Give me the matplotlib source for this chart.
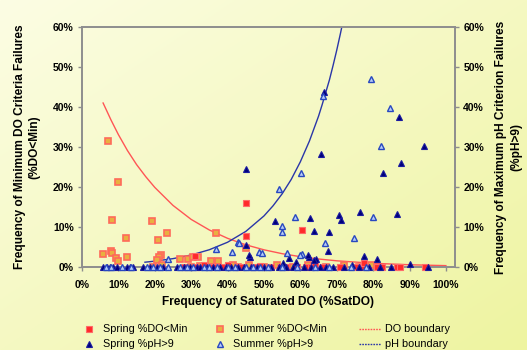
import numpy as np
import matplotlib
matplotlib.use("Agg")
import matplotlib.pyplot as plt
from matplotlib.ticker import FuncFormatter
from matplotlib.lines import Line2D

plt.rcParams['font.family'] = ['Liberation Sans', 'DejaVu Sans']

# ---------------- data (percent) ----------------
spring_do_x = [45.0, 45.0, 60.5, 31.0, 28, 31, 33.5, 36, 38.5, 40, 42.5, 44, 47, 49, 52, 54.5,
               56, 59, 61.5, 63, 66.2, 70.9, 75.5, 77.2, 81, 82.4, 86.5, 87.4, 94.2, 77.5, 64]
spring_do_y = [16.0, 7.8, 9.25, 2.75, 0, 0, 0.4, 0, 0, 0.5, 0, 0, 0, 0.3, 0, 0,
               0, 0, 0, 0, 0, 0, 0, 0, 0, 0, 0, 0, 0, 0.9, 0.6]

summer_do_x = [7.1, 9.8, 8.3, 19.1, 12.1, 20.8, 23.4, 36.8, 5.9, 7.9, 8.2, 9.3, 10.0, 12.4,
               21.7, 21.2, 20.5, 26.9, 29.2, 30.4, 31.8, 35.4, 37.4, 45.0,
               19.5, 22, 30, 32.5, 37, 41.5, 43, 46, 50, 53.5, 58, 62, 67, 72, 76, 79.5]
summer_do_y = [31.5, 21.2, 11.7, 11.6, 7.3, 6.75, 8.6, 8.4, 3.2, 4.1, 3.4, 2.3, 1.5, 2.4,
               3.0, 2.4, 1.75, 2.0, 2.0, 2.4, 2.6, 1.5, 1.5, 4.8,
               0, 0.5, 0, 0.3, 0, 0.4, 0, 0.6, 0, 0.5, 0, 0.4, 0, 0.5, 0, 0.6]

spring_ph_x = [66.6, 87.2, 94.0, 65.8, 82.8, 87.6, 53.0, 62.6, 63.8, 67.9, 70.7, 71.2, 67.7,
               76.4, 86.5, 77.5, 81.0, 57.0, 62.4, 64.3, 55.1, 58.8, 90.1, 74.2, 45.0, 45.0,
               46.2, 46.0, 62.2, 63.8,
               5.8, 6.9, 7.7, 8.5, 9.6, 12.4, 13.2, 14.0, 16.8, 18.7, 20.6, 22.3, 26.0, 27.9,
               29.7, 31.5, 32.5, 34.3, 36, 38, 39.5, 41, 43, 44.5, 46.5, 48, 50, 52, 54, 56,
               58, 61, 63, 65.5, 67, 69, 72, 76, 79, 82, 85, 95]
spring_ph_y = [43.8, 37.6, 30.3, 28.25, 23.6, 25.9, 11.5, 12.3, 9.0, 8.8, 13.0, 11.75, 4.1,
               13.8, 13.25, 2.75, 1.9, 2.2, 2.6, 1.9, 0.9, 1.3, 0.7, 0.5, 24.4, 5.5,
               2.4, 3.0, 3.0, 1.75,
               0, 0, 0, 0, 0, 0, 0, 0, 0, 0, 0, 0, 0, 0,
               0, 0, 0, 0, 0, 0, 0, 0, 0, 0, 0, 0, 0, 0, 0, 0,
               0, 0, 0, 0, 0, 0, 0, 0, 0, 0, 0, 0]

summer_ph_x = [66.1, 79.4, 84.6, 82.3, 60.1, 54.2, 54.9, 55.0, 58.5, 66.8, 74.8, 80.0, 56.2,
               60.4, 42.9, 36.8, 41.1, 23.5, 48.6, 43.2, 49.5, 59.9,
               6.5, 8, 11, 13.5, 17.9, 19.5, 21.4, 23.6, 27, 28.8, 30.6, 33.4, 35, 37, 40, 42,
               45, 47, 49, 51, 55, 59, 64, 68, 74, 78]
summer_ph_y = [42.75, 46.9, 39.7, 30.3, 23.4, 19.4, 10.3, 8.8, 12.6, 6.1, 7.2, 12.4, 3.4,
               3.2, 6.3, 4.4, 3.7, 2.0, 3.8, 6.1, 3.4, 3.0,
               0, 0, 0, 0, 0, 0, 0, 0, 0, 0, 0, 0, 0, 0, 0, 0,
               0, 0, 0, 0, 0, 0, 0, 0, 0, 0]

# boundary curves
do_bound_x = [5.8, 8, 10, 12.5, 15, 17.5, 20, 25, 30, 35, 40, 45, 50, 55, 60, 65, 70, 80, 90, 100]
do_bound_y = [41.0, 36.7, 33.1, 29.1, 25.6, 22.6, 19.9, 15.4, 11.9, 9.25, 7.17, 5.55, 4.3,
              3.33, 2.58, 2.0, 1.55, 0.93, 0.56, 0.34]
ph_bound_x = [17.3, 20, 25, 30, 35, 40, 45, 50, 52.5, 55, 57.5, 60, 62.5, 65, 66, 68, 69, 70, 71, 72]
ph_bound_y = [1.2, 1.46, 2.09, 3.0, 4.32, 6.19, 8.89, 12.76, 15.3, 18.3, 21.9, 26.3, 31.5,
              37.7, 40.6, 46.8, 50.4, 54.2, 58.3, 62.6]

x_ticks = [0, 10, 20, 30, 40, 50, 60, 70, 80, 90, 100]
y_ticks = [0, 10, 20, 30, 40, 50, 60]

legend_labels = ['Spring %DO<Min', 'Summer %DO<Min', 'DO boundary',
                 'Spring %pH>9', 'Summer %pH>9', 'pH boundary']

# ---------------- styles ----------------
RED_LINE = '#ff5555'
BLUE_LINE = '#2a36a8'
st_spring_do = dict(marker='s', ms=4.2, mfc='#ff2a2a', mec='#ff6a6a', mew=0.8)
st_summer_do = dict(marker='s', ms=4.2, mfc='#e8b040', mec='#ff6a5a', mew=1.2)
st_spring_ph = dict(marker='^', ms=4.7, mfc='#00007a', mec='#1a1aa0', mew=0.8)
st_summer_ph = dict(marker='^', ms=4.7, mfc='#b8cdf5', mec='#2848c0', mew=1.0)

# ---------------- figure ----------------
W, H = 527, 350
fig = plt.figure(figsize=(W / 100, H / 100), dpi=100)

bg = fig.add_axes([0, 0, 1, 1], zorder=-10)
gx, gy = np.meshgrid(np.linspace(0, 1, 200), np.linspace(0, 1, 200))
t = np.clip((gx * 0.6 + gy * 0.6), 0, 1.2) / 1.2
c0 = np.array([252, 253, 228]) / 255.0
c1 = np.array([238, 244, 160]) / 255.0
img = c0[None, None, :] * (1 - t[..., None]) + c1[None, None, :] * t[..., None]
bg.imshow(img, aspect='auto', extent=[0, 1, 0, 1], origin='upper')
bg.axis('off')

ax = fig.add_axes([82 / W, 1 - 267 / H, (455 - 82) / W, (267 - 27) / H])
ax.patch.set_alpha(0)
ax.set_xlim(0, 102.5)
ax.set_ylim(0, 60)

axis_col = '#8e8e8e'
for s in ['left', 'right', 'bottom', 'top']:
    ax.spines[s].set_color(axis_col)
    ax.spines[s].set_linewidth(1.4)

ax.plot(do_bound_x, do_bound_y, color=RED_LINE, lw=1.0, zorder=2)
ax.plot(ph_bound_x, ph_bound_y, color=BLUE_LINE, lw=1.0, zorder=2)

ax.plot(spring_ph_x, spring_ph_y, linestyle='none', zorder=4, clip_on=False, **st_spring_ph)
ax.plot(summer_ph_x, summer_ph_y, linestyle='none', zorder=4, clip_on=False, **st_summer_ph)
ax.plot(summer_do_x, summer_do_y, linestyle='none', zorder=3, clip_on=False, **st_summer_do)
ax.plot(spring_do_x, spring_do_y, linestyle='none', zorder=3, clip_on=False, **st_spring_do)

pct = FuncFormatter(lambda v, p: f"{v:.0f}%")
ax.set_xticks(x_ticks)
ax.set_yticks(y_ticks)
ax.xaxis.set_major_formatter(pct)
ax.yaxis.set_major_formatter(pct)
ax.tick_params(axis='both', direction='out', length=3, width=1, color=axis_col,
               labelsize=7.5, pad=3)
ax.tick_params(axis='x', pad=6)
for lab in ax.get_xticklabels() + ax.get_yticklabels():
    lab.set_fontweight('bold')

ax2 = ax.twinx()
ax2.set_ylim(0, 60)
ax2.set_yticks(y_ticks)
ax2.yaxis.set_major_formatter(pct)
ax2.tick_params(axis='y', direction='out', length=3, width=1, color=axis_col,
                labelsize=7.5, pad=3)
for lab in ax2.get_yticklabels():
    lab.set_fontweight('bold')
for s in ax2.spines.values():
    s.set_visible(False)

ax.set_xlabel('Frequency of Saturated DO (%SatDO)', fontsize=8.6, fontweight='bold', labelpad=5)
ax.set_ylabel('Frequency of Minimum DO Criteria Failures\n(%DO<Min)', fontsize=8.6,
              fontweight='bold', labelpad=9, linespacing=1.3)
ax2.set_ylabel('Frequency of Maximum pH Criterion Failures\n(%pH>9)', fontsize=8.6,
               fontweight='bold', labelpad=8, linespacing=1.3, rotation=90)

# ---------------- manual legend (figure pixel coords) ----------------
def fx(px):
    return px / W

def fy(py):
    return 1 - py / H

rows_y = [329, 344]
marker_styles = [[st_spring_do, st_summer_do], [st_spring_ph, st_summer_ph]]
marker_x = [89, 220]
text_x = [103, 233]
for r, ry in enumerate(rows_y):
    for c in range(2):
        fig.add_artist(Line2D([fx(marker_x[c])], [fy(ry)], linestyle='none',
                              transform=fig.transFigure, **marker_styles[r][c]))
        fig.text(fx(text_x[c]), fy(ry), legend_labels[r * 3 + c], fontsize=7.8,
                 va='center', ha='left')
    col = RED_LINE if r == 0 else BLUE_LINE
    fig.add_artist(Line2D([fx(359), fx(381)], [fy(ry), fy(ry)], color=col, lw=1.0,
                          linestyle=(0, (1.2, 0.8)), transform=fig.transFigure))
    fig.text(fx(385), fy(ry), legend_labels[r * 3 + 2], fontsize=7.8, va='center', ha='left')

fig.savefig('out.png', dpi=100)
